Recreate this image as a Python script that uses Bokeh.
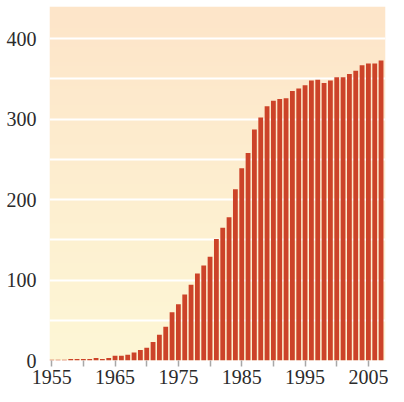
import numpy as np
from bokeh.plotting import figure
from bokeh.models import FixedTicker, Range1d
from bokeh.embed import file_html
from bokeh.resources import INLINE

years = list(range(1955, 2008))
values = [1, 1, 1, 2, 2, 2, 2, 3, 2, 3,
          6, 6, 7, 10, 13, 16, 23, 32, 42, 60,
          70, 82, 94, 108, 118, 129, 151, 165, 178, 213,
          239, 258, 287, 302, 316, 323, 325, 326, 335, 338,
          342, 348, 349, 345, 348, 352, 352, 356, 360, 367,
          369, 369, 373]
x_ticks = list(range(1955, 2006, 5))
x_labels = {t: (str(t) if (t - 1955) % 10 == 0 else "") for t in x_ticks}
y_ticks = [0, 100, 200, 300, 400]
grid_ticks = [50, 100, 150, 200, 250, 300, 350, 400]

X0, X1 = 1954.65, 2007.7
Y0, Y1 = 0, 440

p = figure(width=388, height=386, output_backend="svg", toolbar_location=None,
           x_range=Range1d(X0, X1), y_range=Range1d(Y0, Y1),
           min_border_left=49, min_border_right=3, min_border_top=6, min_border_bottom=0)

# vertical gradient background
n = 256
img = np.empty((n, 1), dtype=np.uint32)
view = img.view(dtype=np.uint8).reshape((n, 1, 4))
bottom = np.array([254, 247, 214])
top = np.array([253, 229, 201])
for i in range(n):
    t = i / (n - 1)
    c = bottom * (1 - t) + top * t
    view[i, 0, 0] = int(c[0]); view[i, 0, 1] = int(c[1]); view[i, 0, 2] = int(c[2]); view[i, 0, 3] = 255
p.image_rgba(image=[img], x=[X0], y=[Y0], dw=[X1 - X0], dh=[Y1 - Y0], level="image")

p.vbar(x=years, top=values, width=0.76, bottom=0, fill_color="#cc4329", line_color=None)

p.outline_line_color = None
p.background_fill_color = None
p.border_fill_color = "white"
p.xgrid.visible = False
p.ygrid.ticker = FixedTicker(ticks=grid_ticks)
p.ygrid.grid_line_color = "white"
p.ygrid.grid_line_width = 2

font = "Liberation Serif"
p.xaxis.ticker = FixedTicker(ticks=x_ticks)
p.xaxis.major_label_overrides = x_labels
p.xaxis.axis_line_color = None
p.xaxis.major_tick_line_color = "#a8a8a8"
p.xaxis.major_tick_line_width = 1.5
p.xaxis.major_tick_out = 6
p.xaxis.major_tick_in = 0
p.xaxis.minor_tick_line_color = None
p.xaxis.major_label_standoff = 3

p.yaxis.ticker = FixedTicker(ticks=y_ticks)
p.yaxis.axis_line_color = None
p.yaxis.major_tick_line_color = None
p.yaxis.minor_tick_line_color = None
p.yaxis.major_label_standoff = 7

for ax in (p.xaxis, p.yaxis):
    ax.major_label_text_font = font
    ax.major_label_text_font_size = "20px"
    ax.major_label_text_color = "#2b2b2b"

open("out.html", "w").write(file_html(p, INLINE))
